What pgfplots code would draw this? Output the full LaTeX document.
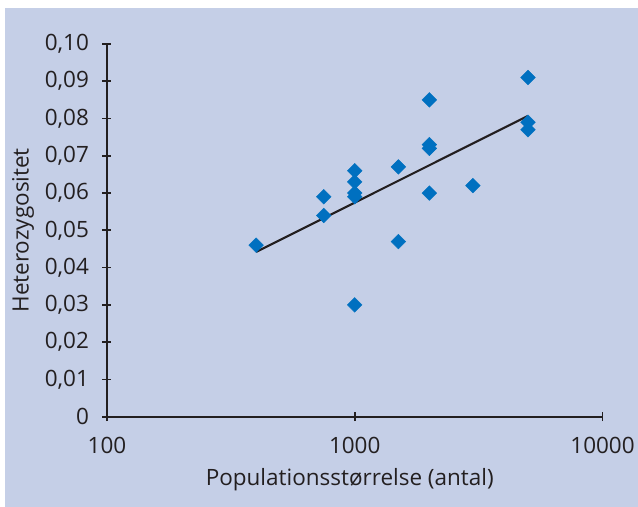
\documentclass[border=0pt]{standalone}
\usepackage{pgfplots}
\pgfplotsset{compat=1.18}
\usepackage{fontspec}
\setmainfont{Open Sans}
\definecolor{bg}{RGB}{197,207,231}
\definecolor{mk}{RGB}{0,112,192}
\definecolor{tx}{RGB}{35,31,32}
\begin{document}
\begin{tikzpicture}[x=1pt,y=1pt]
\fill[white] (0,0) rectangle (638,-507);
\fill[bg] (5,-8) rectangle (638,-507);
\begin{axis}[
  at={(107pt,-417pt)}, anchor=south west,
  scale only axis, width=496pt, height=373pt,
  xmode=log, xmin=100, xmax=10000, ymin=0, ymax=0.10,
  axis x line*=bottom, axis y line*=left,
  axis line style={line width=2.3pt, tx},
  every tick/.style={line width=1.8pt, tx},
  tick align=center, major tick length=9pt,
  xtick={100,1000,10000}, xticklabels={100,1000,10000},
  xminorticks=false, yminorticks=false,
  ytick={0,0.01,0.02,0.03,0.04,0.05,0.06,0.07,0.08,0.09,0.10},
  yticklabels={0,{0,01},{0,02},{0,03},{0,04},{0,05},{0,06},{0,07},{0,08},{0,09},{0,10}},
  ticklabel style={font=\fontsize{22.5}{26}\selectfont, text=tx},
  yticklabel style={xshift=-10pt},
  xticklabel style={yshift=-12pt},
  xlabel={Populationsstørrelse (antal)},
  ylabel={Heterozygositet},
  label style={font=\fontsize{22.5}{26}\selectfont, text=tx},
  xlabel style={yshift=-8pt, xshift=-5pt},
  ylabel style={yshift=4pt},
  clip=false,
]
\addplot[only marks, mark=square*, mark size=5.2pt, mark options={rotate=45, fill=mk, draw=mk}] coordinates {
 (400,0.046) (750,0.059) (750,0.054)
 (1000,0.066) (1000,0.063) (1000,0.060) (1000,0.059) (1000,0.030)
 (1500,0.067) (1500,0.047)
 (2000,0.085) (2000,0.073) (2000,0.072) (2000,0.060)
 (3000,0.062)
 (5000,0.091) (5000,0.079) (5000,0.077)
};
\addplot[tx, line width=2.1pt] coordinates {(400,0.0442) (5000,0.0807)};
\end{axis}
\end{tikzpicture}
\end{document}
